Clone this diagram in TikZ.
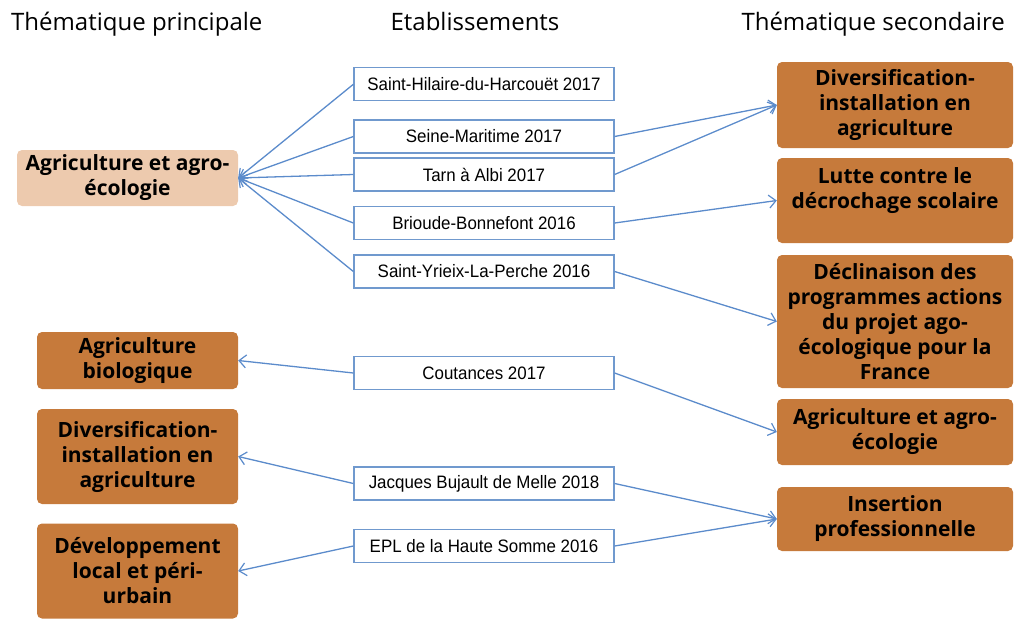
\documentclass[tikz,border=0pt]{standalone}
\usepackage{fontspec}
\setmainfont{Open Sans}
\newfontfamily\boxfont{Open Sans}
\newfontfamily\midfont[FakeStretch=0.94]{Liberation Sans}
\usetikzlibrary{arrows.meta}
\definecolor{orangebox}{HTML}{C67A3B}
\definecolor{peachbox}{HTML}{EDCAAE}
\definecolor{arrowblue}{HTML}{5B8BCB}
\definecolor{midborder}{HTML}{7099CE}
\tikzset{
  header/.style={font=\fontsize{24}{28}\selectfont, anchor=base, inner sep=0pt},
  theme/.style={rounded corners=5pt, align=center, text=black,
     font=\boxfont\bfseries\fontsize{21}{25}\selectfont, inner sep=0pt},
  obox/.style={theme, fill=orangebox},
  pbox/.style={theme, fill=peachbox},
  midbox/.style={draw=midborder, line width=1.3pt, fill=white,
     minimum width=260pt, minimum height=33pt, inner sep=0pt,
     font=\midfont\fontsize{18}{20}\selectfont},
  link/.style={draw=arrowblue, line width=1.3pt,
     -{Straight Barb[length=7pt,width=13pt,line width=1.2pt]}}
}
\begin{document}
\begin{tikzpicture}[x=1pt,y=-1pt]
\useasboundingbox (0,0) rectangle (1015,619);
% headers
\node[header, anchor=base west] (h1) at (11,30) {Thématique principale};
\node[header] (h2) at (475,30) {Etablissements};
\node[header, anchor=base east] (h3) at (1005,30) {Thématique secondaire};
% left boxes
\node[pbox, minimum width=221pt, minimum height=56pt] (l1) at (127.5,178) {Agriculture et agro-\\écologie};
\node[obox, minimum width=201pt, minimum height=57pt] (l2) at (137.5,360.5) {Agriculture\\biologique};
\node[obox, minimum width=201pt, minimum height=95pt] (l3) at (137.5,456.5) {Diversification-\\installation en\\agriculture};
\node[obox, minimum width=201pt, minimum height=95pt] (l4) at (137.5,571) {Développement\\local et péri-\\urbain};
% middle boxes
\node[midbox] (m1) at (484,84.3) {Saint-Hilaire-du-Harcouët 2017};
\node[midbox] (m2) at (484,136.5) {Seine-Maritime 2017};
\node[midbox] (m3) at (484,174.5) {Tarn à Albi 2017};
\node[midbox] (m4) at (484,223) {Brioude-Bonnefont 2016};
\node[midbox] (m5) at (484,271.5) {Saint-Yrieix-La-Perche 2016};
\node[midbox] (m6) at (484,373) {Coutances 2017};
\node[midbox] (m7) at (484,483.5) {Jacques Bujault de Melle 2018};
\node[midbox] (m8) at (484,546) {EPL de la Haute Somme 2016};
% right boxes
\node[obox, minimum width=236pt, minimum height=86pt] (r1) at (895,105) {Diversification-\\installation en\\agriculture};
\node[obox, minimum width=236pt, minimum height=85pt] (r2) at (895,200.5) {};
\node[theme] (r2t) at (895,190.5) {Lutte contre le\\décrochage scolaire};
\node[obox, minimum width=236pt, minimum height=133pt] (r3) at (895,321.5) {Déclinaison des\\programmes actions\\du projet ago-\\écologique pour la\\France};
\node[obox, minimum width=236pt, minimum height=66pt] (r4) at (895,432) {Agriculture et agro-\\écologie};
\node[obox, minimum width=236pt, minimum height=64pt] (r5) at (895,519) {Insertion\\professionnelle};
% connectors to main theme
\foreach \m in {m1,m2,m3,m4,m5} \draw[link] (\m.west) -- (l1.east);
\draw[link] (m6.west) -- (l2.east);
\draw[link] (m7.west) -- (l3.east);
\draw[link] (m8.west) -- (l4.east);
% connectors to secondary theme
\draw[link] (m2.east) -- (r1.west);
\draw[link] (m3.east) -- (r1.west);
\draw[link] (m4.east) -- (r2.west);
\draw[link] (m5.east) -- (r3.west);
\draw[link] (m6.east) -- (r4.west);
\draw[link] (m7.east) -- (r5.west);
\draw[link] (m8.east) -- (r5.west);
\end{tikzpicture}
\end{document}
